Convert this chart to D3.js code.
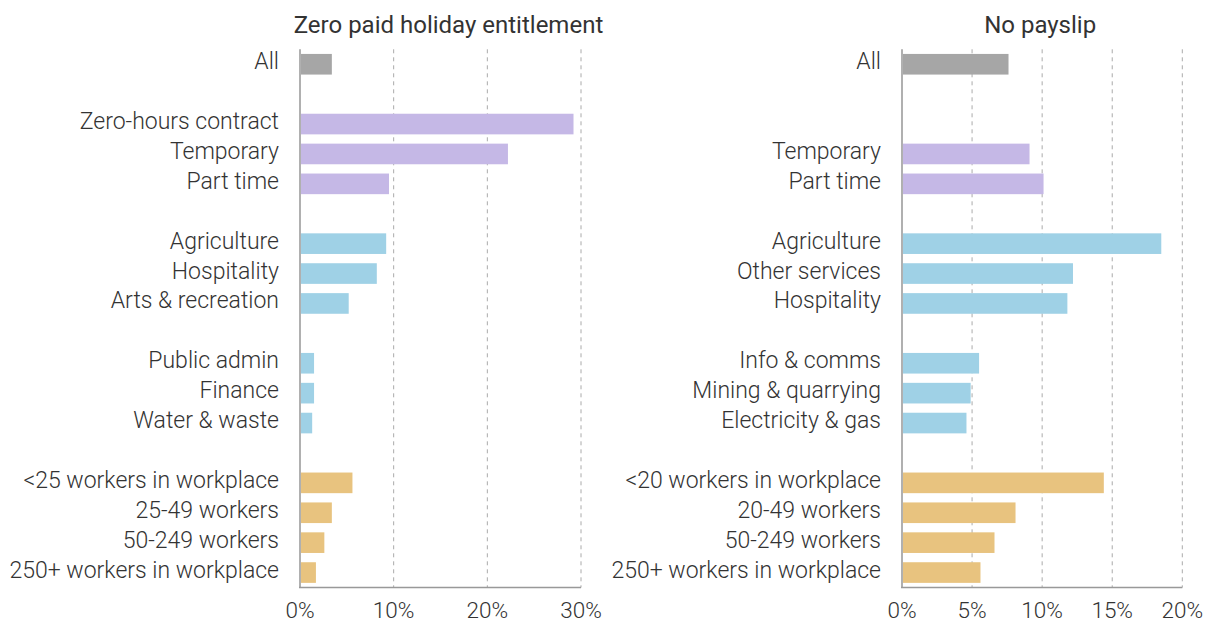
<!DOCTYPE html>
<html>
<head>
<meta charset="utf-8">
<script src="https://cdn.jsdelivr.net/npm/d3@7"></script>
<style>
  html, body { margin: 0; padding: 0; background: #fff; }
  svg { display: block; }
  text { font-family: Roboto, "Noto Sans", sans-serif; fill: #333; }
</style>
</head>
<body>
<svg id="chart" width="1211" height="623"></svg>
<script>
// ---- Data ----
// Slots: gap keys mark blank rows between groups
const holidayCategories = ["All", "gap1", "Zero-hours contract", "Temporary", "Part time", "gap2",
  "Agriculture", "Hospitality", "Arts & recreation", "gap3",
  "Public admin", "Finance", "Water & waste", "gap4",
  "<25 workers in workplace", "25-49 workers", "50-249 workers", "250+ workers in workplace"];
const holidayValues = [3.4, null, 29.2, 22.2, 9.5, null,
  9.2, 8.2, 5.2, null,
  1.5, 1.5, 1.3, null,
  5.6, 3.4, 2.6, 1.7];
const holidayGroups = ["all", null, "contract", "contract", "contract", null,
  "industry", "industry", "industry", null,
  "industry", "industry", "industry", null,
  "size", "size", "size", "size"];
const holidayTicks = [0, 10, 20, 30];

const payslipCategories = ["All", "gap1", "gap1b", "Temporary", "Part time", "gap2",
  "Agriculture", "Other services", "Hospitality", "gap3",
  "Info & comms", "Mining & quarrying", "Electricity & gas", "gap4",
  "<20 workers in workplace", "20-49 workers", "50-249 workers", "250+ workers in workplace"];
const payslipValues = [7.6, null, null, 9.1, 10.1, null,
  18.5, 12.2, 11.8, null,
  5.5, 4.9, 4.6, null,
  14.4, 8.1, 6.6, 5.6];
const payslipGroups = ["all", null, null, "contract", "contract", null,
  "industry", "industry", "industry", null,
  "industry", "industry", "industry", null,
  "size", "size", "size", "size"];
const payslipTicks = [0, 5, 10, 15, 20];

const titles = ["Zero paid holiday entitlement", "No payslip"];

const colors = { all: "#a6a6a6", contract: "#c5b8e6", industry: "#9fd1e6", size: "#e8c37f" };

// ---- Drawing ----
const svg = d3.select("#chart");
const plotTop = 49.3, plotBottom = 587.5;

function panel(opts) {
  const { cats, vals, groups, ticks, title, x0, x1 } = opts;
  const g = svg.append("g");
  const x = d3.scaleLinear().domain([0, ticks[ticks.length - 1]]).range([x0, x1]);
  const y = d3.scaleBand().domain(cats).range([plotTop, plotBottom]).paddingInner(0.31).paddingOuter(0.155);

  // gridlines
  g.selectAll("line.grid").data(ticks.slice(1)).join("line")
    .attr("x1", d => x(d)).attr("x2", d => x(d))
    .attr("y1", plotTop).attr("y2", plotBottom)
    .attr("stroke", "#aaa").attr("stroke-width", 1)
    .attr("stroke-dasharray", "4,4");

  const rows = cats.map((c, i) => ({ c, v: vals[i], grp: groups[i] })).filter(d => d.v != null);

  // bars
  g.selectAll("rect.bar").data(rows).join("rect")
    .attr("x", x(0))
    .attr("y", d => y(d.c))
    .attr("width", d => x(d.v) - x(0))
    .attr("height", y.bandwidth())
    .attr("fill", d => colors[d.grp]);

  // left axis line
  g.append("line")
    .attr("x1", x(0)).attr("x2", x(0))
    .attr("y1", plotTop).attr("y2", plotBottom)
    .attr("stroke", "#b0b0b0").attr("stroke-width", 2);
  // bottom axis line
  g.append("line")
    .attr("x1", x(0) - 1).attr("x2", x.range()[1])
    .attr("y1", plotBottom).attr("y2", plotBottom)
    .attr("stroke", "#999").attr("stroke-width", 1.5);

  // category labels
  g.selectAll("text.cat").data(rows).join("text")
    .attr("x", x(0) - 21)
    .attr("y", d => y(d.c) + y.bandwidth() / 2 - 2.5)
    .attr("text-anchor", "end")
    .attr("dominant-baseline", "central")
    .attr("font-size", 23)
    .attr("font-weight", 300)
    .text(d => d.c);

  // tick labels
  g.selectAll("text.tick").data(ticks).join("text")
    .attr("x", d => x(d))
    .attr("y", 610)
    .attr("text-anchor", "middle")
    .attr("dominant-baseline", "central")
    .attr("font-size", 22.5)
    .attr("font-weight", 300)
    .text(d => d + "%");

  // title
  g.append("text")
    .attr("x", (x0 + x1) / 2 + opts.titleShift)
    .attr("y", 25)
    .attr("text-anchor", "middle")
    .attr("dominant-baseline", "central")
    .attr("font-size", 24)
    .attr("font-weight", 400)
    .attr("fill", "#1a1a1a")
    .text(title);
}

panel({ cats: holidayCategories, vals: holidayValues, groups: holidayGroups, ticks: holidayTicks,
  title: titles[0], x0: 300, x1: 581, titleShift: 8 });
panel({ cats: payslipCategories, vals: payslipValues, groups: payslipGroups, ticks: payslipTicks,
  title: titles[1], x0: 902, x1: 1182.3, titleShift: -2 });
</script>
</body>
</html>
